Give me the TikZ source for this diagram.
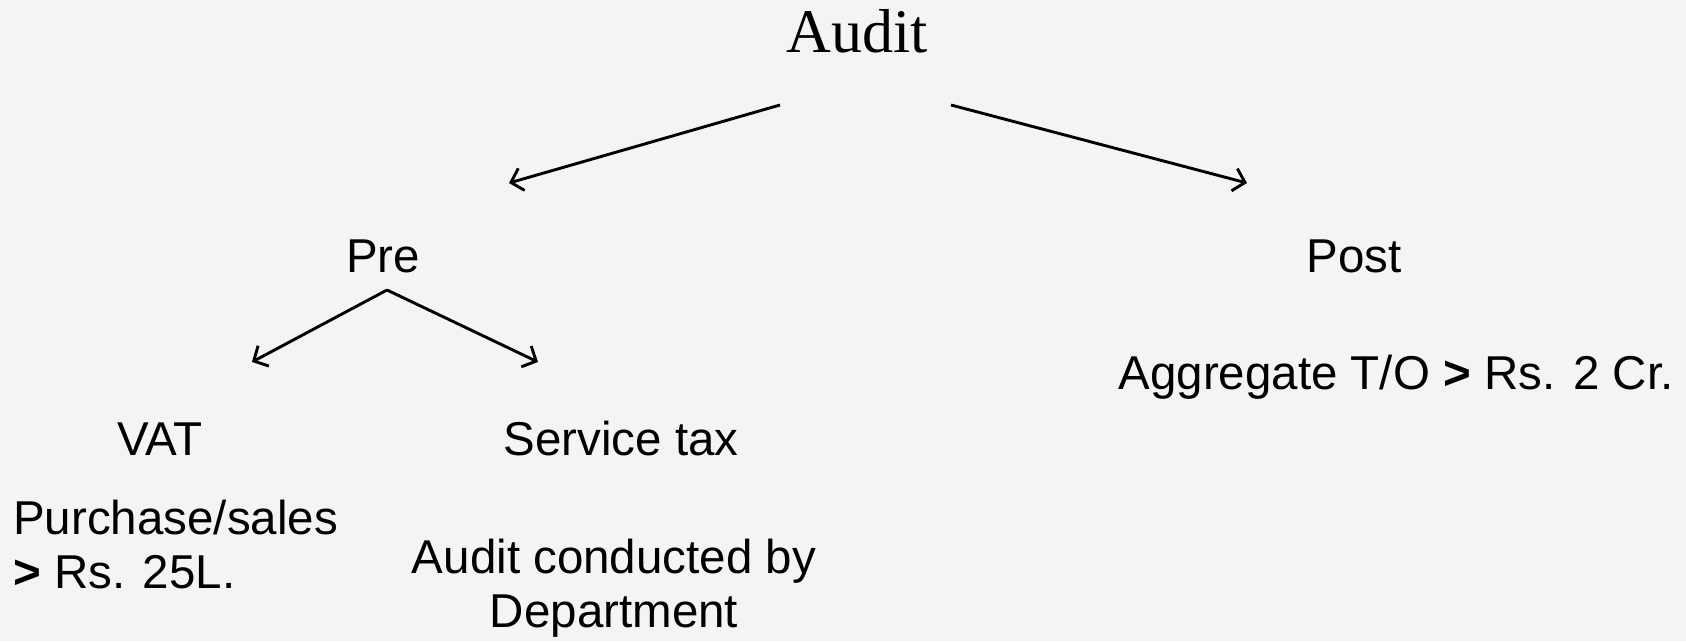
\documentclass[tikz,border=0pt]{standalone}
\usepackage{fontspec}
\setmainfont{Liberation Sans}
\newfontfamily\serifface{Liberation Serif}
\usetikzlibrary{arrows.meta}
\definecolor{bgcol}{RGB}{244,244,244}
\tikzset{
  lbl/.style={anchor=base, inner sep=0pt, font=\fontsize{47.5}{54}\selectfont},
  conn/.style={line width=2.9pt, -{Straight Barb[length=11pt,width=23pt,line width=2.9pt]}}
}
\begin{document}
\begin{tikzpicture}[x=1pt,y=-1pt]
\fill[bgcol] (0,0) rectangle (1686,641);
\useasboundingbox (0,0) rectangle (1686,641);
% nodes
\node[anchor=base, inner sep=0pt, font=\serifface\fontsize{62}{70}\selectfont] (audit) at (857,52) {Audit};
\node[lbl] (pre) at (383,272) {Pre};
\node[lbl] (post) at (1354,272) {Post};
\node[lbl] (agg) at (1396,389) {Aggregate T/O \textbf{>} Rs. 2 Cr.};
\node[lbl] (vat) at (160,455) {VAT};
\node[lbl] (stax) at (621,455) {Service tax};
\node[lbl, anchor=base west, align=left] (purch) at (13,588) {Purchase/sales\\\textbf{>} Rs. 25L.};
\node[lbl, align=center] (dept) at (614,627) {Audit conducted by\\Department};
% connector endpoints
\coordinate (auditL) at (780,105);
\coordinate (auditR) at (951,105);
\coordinate (preIn) at (509,183);
\coordinate (postIn) at (1247,183);
\coordinate (preOut) at (387,290);
\coordinate (vatIn) at (252,362);
\coordinate (staxIn) at (538,362);
% connectors
\draw[conn] (auditL) -- (preIn);
\draw[conn] (auditR) -- (postIn);
\draw[conn] (preOut) -- (vatIn);
\draw[conn] (preOut) -- (staxIn);
\end{tikzpicture}
\end{document}
